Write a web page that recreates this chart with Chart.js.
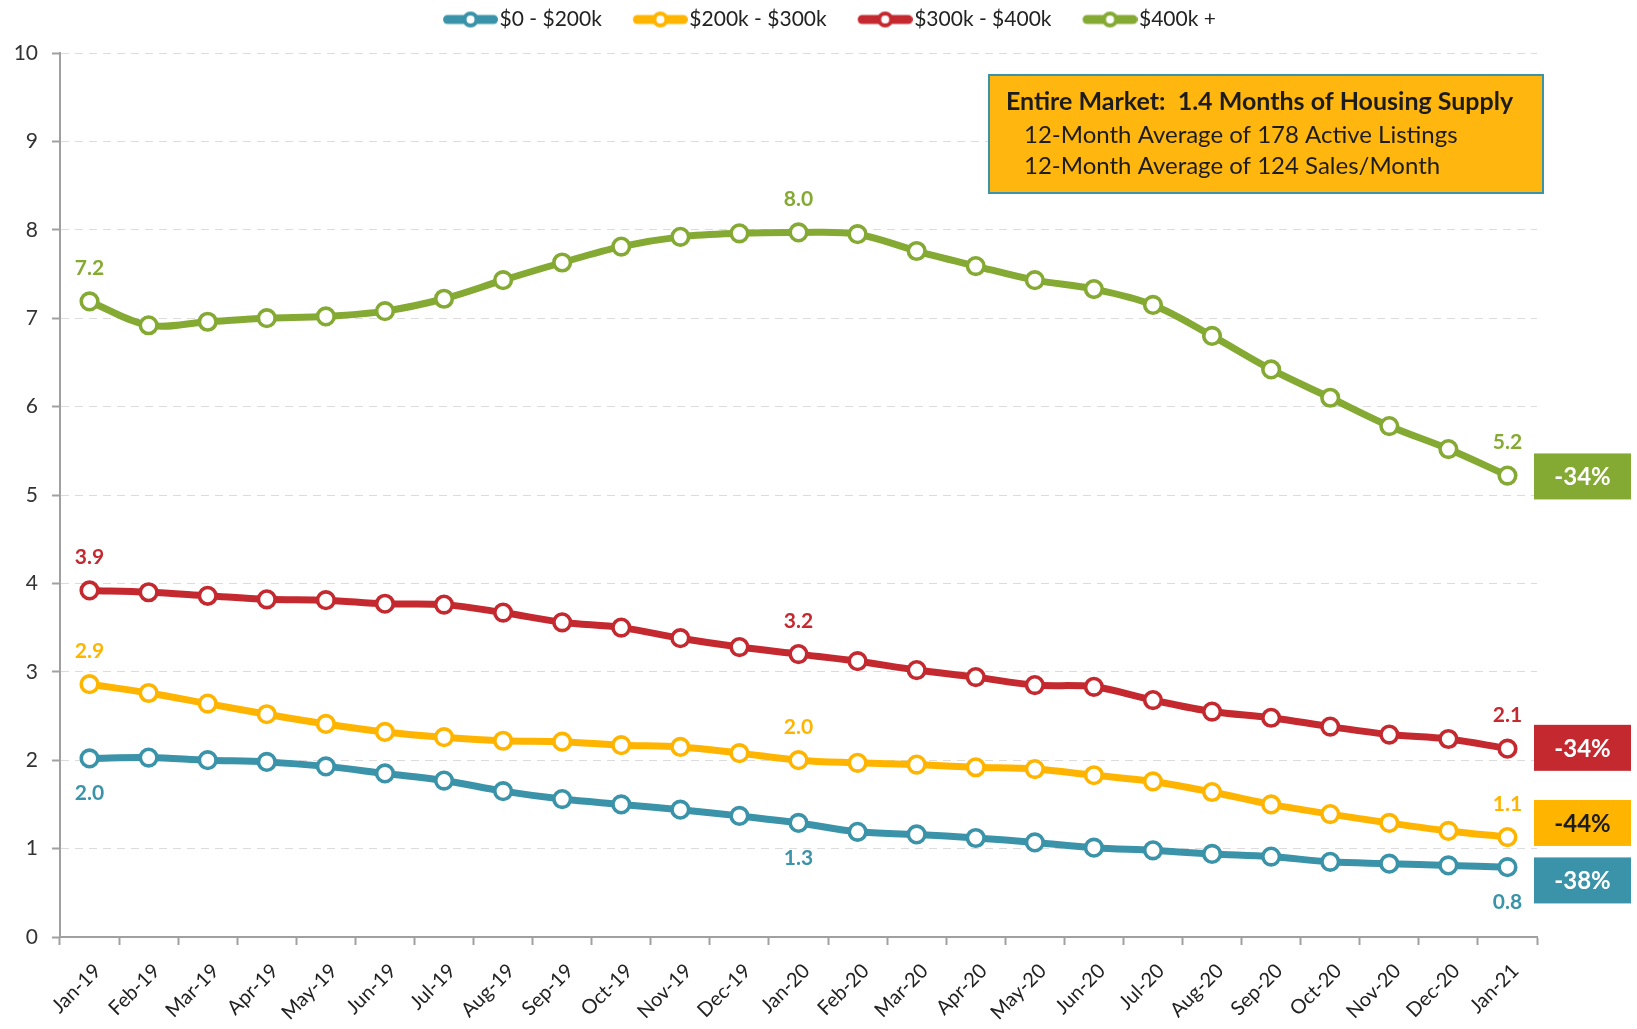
<!DOCTYPE html>
<html><head><meta charset="utf-8">
<script src="https://cdn.jsdelivr.net/npm/chart.js@4.4.1/dist/chart.umd.min.js"></script>
<style>html,body{margin:0;padding:0;background:#fff}#wrap{width:1637px;height:1029px}</style>
</head><body><div id="wrap"><canvas id="c" width="1637" height="1029"></canvas></div>
<script>
const categories=['Jan-19','Feb-19','Mar-19','Apr-19','May-19','Jun-19','Jul-19','Aug-19','Sep-19','Oct-19','Nov-19','Dec-19','Jan-20','Feb-20','Mar-20','Apr-20','May-20','Jun-20','Jul-20','Aug-20','Sep-20','Oct-20','Nov-20','Dec-20','Jan-21'];
const seriesNames=['$0 - $200k','$200k - $300k','$300k - $400k','$400k +'];
const seriesColors=['#3A93A8','#FFB500','#C4292F','#84AA33'];
const under200=[2.02,2.03,2.00,1.98,1.93,1.85,1.77,1.65,1.56,1.50,1.44,1.37,1.29,1.19,1.16,1.12,1.07,1.01,0.98,0.94,0.91,0.85,0.83,0.81,0.79];
const from200to300=[2.86,2.76,2.64,2.52,2.41,2.32,2.26,2.22,2.21,2.17,2.15,2.08,2.00,1.97,1.95,1.92,1.90,1.83,1.76,1.64,1.50,1.39,1.29,1.20,1.13];
const from300to400=[3.92,3.90,3.86,3.82,3.81,3.77,3.76,3.67,3.56,3.50,3.38,3.28,3.20,3.12,3.02,2.94,2.85,2.83,2.68,2.55,2.48,2.38,2.29,2.24,2.13];
const over400=[7.19,6.92,6.96,7.00,7.02,7.08,7.22,7.43,7.63,7.81,7.92,7.96,7.97,7.95,7.76,7.59,7.43,7.33,7.15,6.80,6.42,6.10,5.78,5.52,5.22];
const yTicks=[0,1,2,3,4,5,6,7,8,9,10];
const labelIndices=[0,12,24];
const labelBelow=[true,false,false,false];
const badgeText=['-38%','-44%','-34%','-34%'];
const badgeTextColor=['#ffffff','#1c1c1c','#ffffff','#ffffff'];
const badgeCenter=[0.64,1.29,2.14,5.21];
const infoLines=['Entire Market:  1.4 Months of Housing Supply','12-Month Average of 178 Active Listings','12-Month Average of 124 Sales/Month'];

const FONT='Lato';
function legendMarker(color){
  const c=document.createElement('canvas');c.width=86;c.height=22;
  const g=c.getContext('2d');
  g.strokeStyle=color;g.lineWidth=9;g.lineCap='round';
  g.beginPath();g.moveTo(35.5,11);g.lineTo(81.5,11);g.stroke();
  g.beginPath();g.arc(58.5,11,6,0,Math.PI*2);g.fillStyle='#fff';g.fill();g.lineWidth=4;g.stroke();
  return c;
}
const allSeries=[under200,from200to300,from300to400,over400];
const datasets=allSeries.map((d,i)=>({
  label:seriesNames[i],data:d,borderColor:seriesColors[i],backgroundColor:'#fff',
  borderWidth:7,tension:0.35,pointRadius:8.3,pointBorderWidth:3.6,pointBackgroundColor:'#fff',
  pointBorderColor:seriesColors[i],pointHoverRadius:8.3,pointStyle:'circle',
  legendMarker:legendMarker(seriesColors[i])
}));

const annot={
  id:'annot',
  afterInit(chart){
    const lg=chart.legend;
    if(lg){const orig=lg.fit.bind(lg);lg.fit=function(){orig();this.height+=13;};}
  },
  afterDatasetsDraw(chart){
    const ctx=chart.ctx,ca=chart.chartArea,ys=chart.scales.y;
    ctx.save();
    ctx.font='bold 21px '+FONT;ctx.textAlign='center';ctx.textBaseline='middle';
    chart.data.datasets.forEach((ds,i)=>{
      const meta=chart.getDatasetMeta(i);
      ctx.fillStyle=seriesColors[i];
      labelIndices.forEach(j=>{
        const p=meta.data[j];
        ctx.fillText(ds.data[j].toFixed(1),p.x,labelBelow[i]?p.y+35:p.y-33);
      });
    });
    badgeText.forEach((t,i)=>{
      const cy=ys.getPixelForValue(badgeCenter[i]);
      const x=ca.right-3,w=97,h=46;
      ctx.fillStyle=seriesColors[i];ctx.fillRect(x,cy-h/2,w,h);
      ctx.fillStyle=badgeTextColor[i];ctx.font='bold 24px '+FONT;
      ctx.fillText(t,x+w/2,cy+1);
    });
    const bx=ca.right-548,by=ca.top+22,bw=554,bh=118;
    ctx.fillStyle='#FFB60F';ctx.fillRect(bx,by,bw,bh);
    ctx.strokeStyle='#3A93A8';ctx.lineWidth=2;ctx.strokeRect(bx,by,bw,bh);
    ctx.fillStyle='#1c1c1c';ctx.textAlign='left';
    ctx.font='bold 25px '+FONT;ctx.fillText(infoLines[0],bx+17,by+27);
    ctx.font='24px '+FONT;
    ctx.fillText(infoLines[1],bx+35,by+60);
    ctx.fillText(infoLines[2],bx+35,by+91);
    ctx.restore();
  }
};

new Chart(document.getElementById('c'),{
  type:'line',
  data:{labels:categories,datasets},
  options:{
    responsive:false,animation:false,devicePixelRatio:1,
    layout:{padding:{top:0,left:0,right:0,bottom:0}},
    plugins:{
      tooltip:{enabled:false},
      legend:{position:'top',align:'center',
        labels:{usePointStyle:true,pointStyleWidth:68,padding:9,color:'#222',
          font:{family:FONT,size:21},
          generateLabels(chart){
            return chart.data.datasets.map((ds,i)=>({text:ds.label,pointStyle:ds.legendMarker,fillStyle:'#fff',strokeStyle:ds.borderColor,lineWidth:0,hidden:false,datasetIndex:i,fontColor:'#222'}));
          }}}
    },
    scales:{
      x:{type:'category',offset:true,
        grid:{display:true,drawOnChartArea:false,drawTicks:true,tickLength:8,offset:true,tickColor:'#a0a0a0',tickWidth:2},
        border:{display:true,color:'#a0a0a0',width:2},
        ticks:{autoSkip:false,maxRotation:45,minRotation:45,padding:14,labelOffset:8,color:'#222',font:{family:FONT,size:20}},
        afterFit(s){s.height=92;}
      },
      y:{type:'linear',min:0,max:10,
        afterBuildTicks(s){s.ticks=yTicks.map(v=>({value:v}));},
        grid:{color:'#dcdcdc',lineWidth:1,tickLength:8,tickColor:'#a0a0a0',tickWidth:2,tickBorderDash:[]},
        border:{display:true,color:'#a0a0a0',width:2,dash:[8,6]},
        ticks:{padding:14,color:'#333',font:{family:FONT,size:21}},
        afterFit(s){s.width=60;}
      },
      yR:{type:'linear',position:'right',display:true,min:0,max:10,
        grid:{display:false},border:{display:false},ticks:{display:false},
        afterFit(s){s.width=100;}
      }
    }
  },
  plugins:[annot]
});
</script></body></html>
